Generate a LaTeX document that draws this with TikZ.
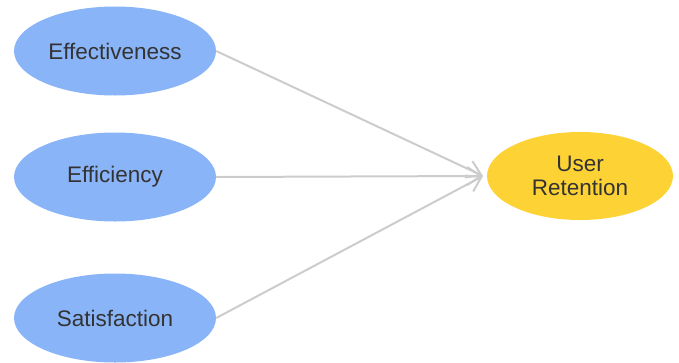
\documentclass[tikz,border=0pt]{standalone}
\usepackage{fontspec}
\setmainfont{Liberation Sans}
\usepackage{xcolor}
\usepackage{tikz}
\usetikzlibrary{
  arrows.meta,
  shapes
}
\definecolor{factblue}{HTML}{8AB4F8}
\definecolor{goalyellow}{HTML}{FDD235}
\definecolor{linkgray}{HTML}{CCCCCC}
\definecolor{labelgray}{HTML}{333333}
\tikzset{
  factor/.style={
    ellipse,
    fill=factblue,
    inner sep=0pt,
    minimum width=202pt,
    minimum height=89pt,
    text=labelgray,
    font=\fontsize{22.5}{26}\selectfont},
  outcome/.style={
    factor,
    fill=goalyellow,
    minimum width=186pt,
    minimum height=88pt,
    align=center},
  link/.style={
    draw=linkgray,
    line width=2pt,
    -{Straight Barb[length=14pt,width=18pt,line width=2pt]}}
  }

\begin{document}
\begin{tikzpicture}[x=1pt,y=-1pt]
      \useasboundingbox (0,0) rectangle (679,362);
      \node[factor] (effect) at (115,51) {Effectiveness};
      \node[factor] (effic) at (115,177) {Efficiency};
      \node[factor] (satis) at (115,318) {Satisfaction};
      \node[outcome] (ret) at (580,176) {User\\[-2pt]Retention};
      \coordinate (tip) at (483,176);
      \path
      (effect.east) edge[link] (tip)
      (effic.east) edge[link] (tip)
      (satis.east) edge[link] (tip);
    \end{tikzpicture}
\end{document}
